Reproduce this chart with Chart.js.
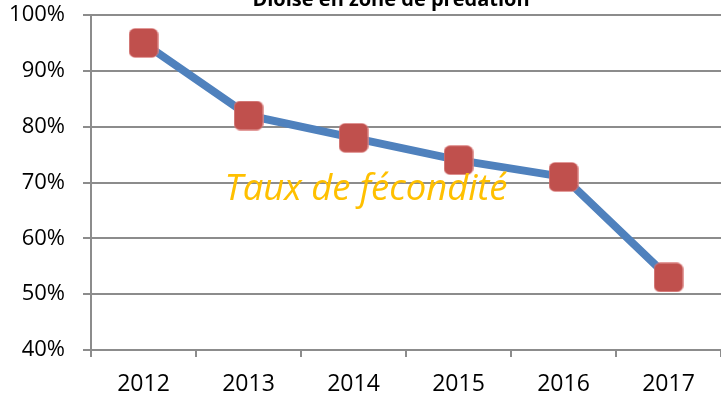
<!DOCTYPE html>
<html lang="fr">
<head>
  <meta charset="UTF-8" />
  <title>Taux de fécondité</title>
  <script src="https://cdn.jsdelivr.net/npm/chart.js"></script>
  <style>
    html, body { margin: 0; padding: 0; background: #fff; overflow: hidden; }
    #wrap { width: 721px; height: 404px; }
  </style>
</head>
<body>
  <div id="wrap"><canvas id="chart" width="721" height="404"></canvas></div>

  <script>
    const years = ['2012', '2013', '2014', '2015', '2016', '2017'];
    const fecondite = [95, 82, 78, 74, 71, 53];
    const yTicks = [40, 50, 60, 70, 80, 90, 100];

    const chartTitle = 'Dioise en zone de prédation';
    const seriesLabel = 'Taux de fécondité';

    const FONT = '"Open Sans", "DejaVu Sans", sans-serif';
    const GRID = '#8c8c8c';

    // rounded square marker
    function makeMarker(size, r, fill) {
      const c = document.createElement('canvas');
      c.width = size; c.height = size;
      const g = c.getContext('2d');
      g.fillStyle = fill;
      g.beginPath();
      g.roundRect(0.5, 0.5, size - 1, size - 1, r);
      g.fill();
      g.strokeStyle = 'rgba(230,150,150,0.6)';
      g.lineWidth = 1;
      g.stroke();
      return c;
    }
    const marker = makeMarker(30, 6, '#C0504D');

    // fit a text to a width by adjusting the font size
    function fitFont(ctx, text, width, style, family) {
      ctx.font = style + ' 100px ' + family;
      const w = ctx.measureText(text).width;
      return style + ' ' + (100 * width / w).toFixed(1) + 'px ' + family;
    }

    const textPlugin = {
      id: 'texts',
      afterDraw(chart) {
        const ctx = chart.ctx;
        ctx.save();
        // title, partly above the top edge
        ctx.fillStyle = '#000';
        ctx.textAlign = 'center';
        ctx.textBaseline = 'alphabetic';
        ctx.font = fitFont(ctx, chartTitle, 277, 'bold', FONT);
        ctx.fillText(chartTitle, 391, 6);
        // series name inside the plot
        ctx.fillStyle = '#FFC000';
        ctx.font = fitFont(ctx, seriesLabel, 283, 'italic', FONT);
        ctx.fillText(seriesLabel, 366, 200);
        ctx.restore();
      }
    };

    new Chart(document.getElementById('chart'), {
      type: 'line',
      data: {
        labels: years,
        datasets: [{
          label: seriesLabel,
          data: fecondite,
          borderColor: '#4F81BD',
          borderWidth: 8,
          pointStyle: marker,
          pointRadius: 15,
          pointHoverRadius: 15,
          tension: 0
        }]
      },
      options: {
        responsive: false,
        animation: false,
        events: [],
        layout: { autoPadding: false, padding: { top: 15, right: 0, bottom: 0, left: 0 } },
        plugins: {
          legend: { display: false },
          title: { display: false },
          tooltip: { enabled: false }
        },
        scales: {
          x: {
            offset: true,
            grid: {
              offset: true,
              drawOnChartArea: false,
              drawTicks: true,
              tickLength: 7,
              color: GRID,
              lineWidth: 2
            },
            border: { display: false },
            ticks: {
              color: '#000',
              font: { family: FONT, size: 23 },
              padding: 14,
              maxRotation: 0
            },
            afterFit(scale) {
              scale.height = 54;
              scale.paddingLeft = 0;
              scale.paddingRight = 0;
            }
          },
          y: {
            min: 40,
            max: 100,
            afterBuildTicks(scale) { scale.ticks = yTicks.map(v => ({ value: v })); },
            grid: {
              color: GRID,
              lineWidth: 2,
              drawTicks: true,
              tickLength: 8
            },
            border: { display: true, color: GRID, width: 2 },
            ticks: {
              color: '#000',
              font: { family: FONT, size: 22 },
              padding: 18,
              callback: v => v + '%'
            },
            afterFit(scale) {
              scale.width = 91;
              scale.paddingTop = 0;
              scale.paddingBottom = 0;
            }
          }
        }
      },
      plugins: [textPlugin]
    });
  </script>
</body>
</html>
